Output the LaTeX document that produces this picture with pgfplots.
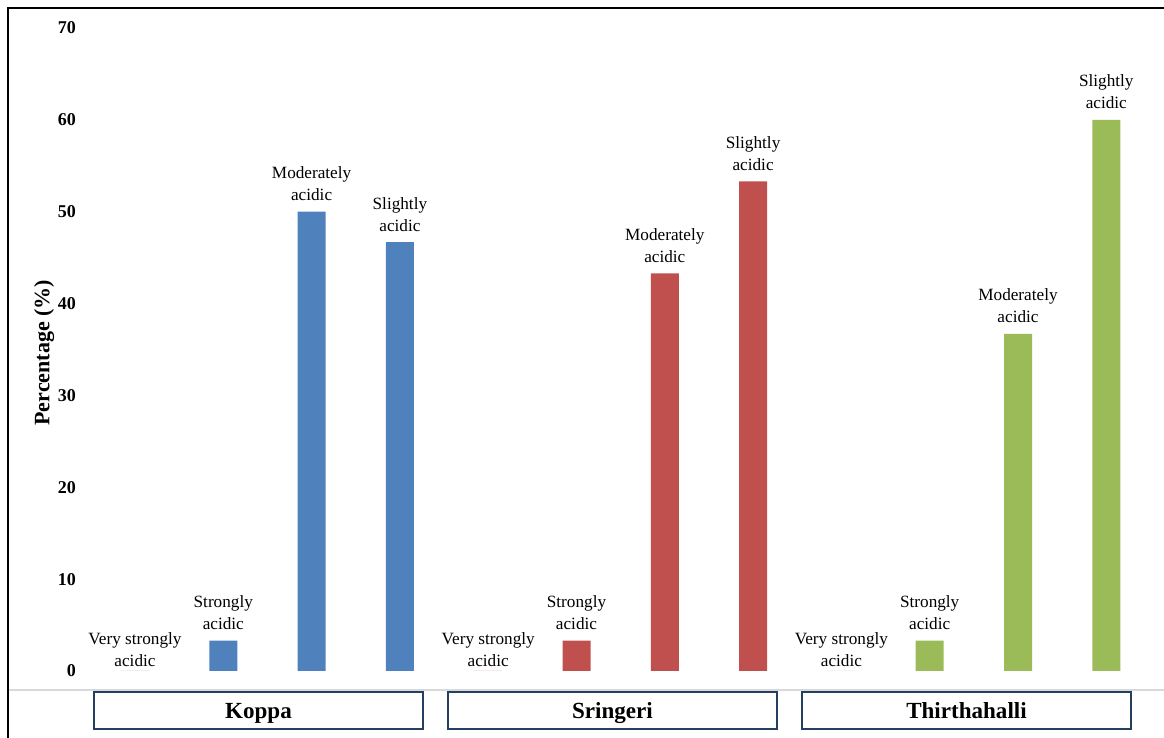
\documentclass[border=0pt]{standalone}
\usepackage{fontspec}
\setmainfont{Liberation Serif}
\usepackage{pgfplots}
\usepackage{pgfplotstable}
\pgfplotsset{compat=1.18}

\definecolor{koppa}{HTML}{4F81BD}
\definecolor{sringeri}{HTML}{C0504D}
\definecolor{thirtha}{HTML}{9BBB59}
\definecolor{boxnavy}{HTML}{243F60}
\definecolor{basegray}{HTML}{D9D9D9}

% class index: 0 very strongly, 1 strongly, 2 moderately, 3 slightly acidic
\pgfplotstableread{
x  y     cls
0  0     0
1  3.3   1
2  50.0  2
3  46.7  3
}\koppatab
\pgfplotstableread{
x  y     cls
4  0     0
5  3.3   1
6  43.3  2
7  53.3  3
}\sringeritab
\pgfplotstableread{
x  y     cls
8  0     0
9  3.3   1
10 36.7  2
11 60.0  3
}\thirthatab

\newcommand{\twoline}[2]{\begin{tabular}[b]{@{}c@{}}#1\\#2\end{tabular}}
\newcommand{\lblA}{\raisebox{-5.25pt}{\twoline{Very strongly}{acidic}}}
\newcommand{\lblB}{\twoline{Strongly}{acidic}}
\newcommand{\lblC}{\twoline{Moderately}{acidic}}
\newcommand{\lblD}{\twoline{Slightly}{acidic}}
\newcommand{\acidlabel}[1]{%
  \ifcase#1\relax\let\acidtxt\lblA\or\let\acidtxt\lblB\or
  \let\acidtxt\lblC\or\let\acidtxt\lblD\fi\acidtxt}

\begin{document}
\begin{tikzpicture}
\begin{axis}[
  at={(0,0)}, anchor=south west,
  scale only axis,
  width=794.7pt, height=482.25pt,
  xmin=-0.5, xmax=11.5,
  ymin=0, ymax=70,
  ytick={0,10,...,70},
  xtick=\empty,
  enlargelimits=false,
  axis line style={draw=none},
  major tick length=0pt,
  clip=false,
  ybar, bar width=21pt, bar shift=0pt,
  /pgf/number format/assume math mode=true,
  yticklabel style={font=\fontsize{13.5}{16}\selectfont\bfseries,
    anchor=east, inner sep=0pt, xshift=-11pt},
  ylabel={Percentage (\%)},
  ylabel style={font=\fontsize{16.5}{20}\selectfont\bfseries,
    at={(rel axis cs:0,0.495)}, anchor=center, yshift=35.1pt},
  point meta=explicit symbolic,
  nodes near coords={\acidlabel{\pgfplotspointmeta}},
  every node near coord/.style={font=\fontsize{12.9}{16.5}\selectfont,
    anchor=base, inner sep=0pt, yshift=8.25pt, text=black},
]
\addplot[fill=koppa, draw=none] table[x=x, y=y, meta=cls] {\koppatab};
\addplot[fill=sringeri, draw=none] table[x=x, y=y, meta=cls] {\sringeritab};
\addplot[fill=thirtha, draw=none] table[x=x, y=y, meta=cls] {\thirthatab};
\end{axis}

% frame, baseline and district boxes, laid out in pixel units
\begin{scope}[x=0.75pt, y=-0.75pt, shift={(-68.1375pt,503.25pt)}]
  \draw[basegray, line width=1.5pt] (8,690) -- (1170,690);
  \draw[black, line width=1.5pt] (8,745) -- (8,8) -- (1170,8);
  \foreach \lx/\name in {94/Koppa, 448/Sringeri, 802/Thirthahalli}{
    \draw[boxnavy, line width=1.5pt, fill=white]
      (\lx,692) rectangle ++(329,37);
    \node[font=\fontsize{17.3}{20}\selectfont\bfseries, anchor=base,
      inner sep=0pt] at (\lx+164.5,719) {\name};
  }
  \pgfresetboundingbox
  \path[use as bounding box] (0,0) rectangle (1164,738);
\end{scope}
\end{tikzpicture}
\end{document}
